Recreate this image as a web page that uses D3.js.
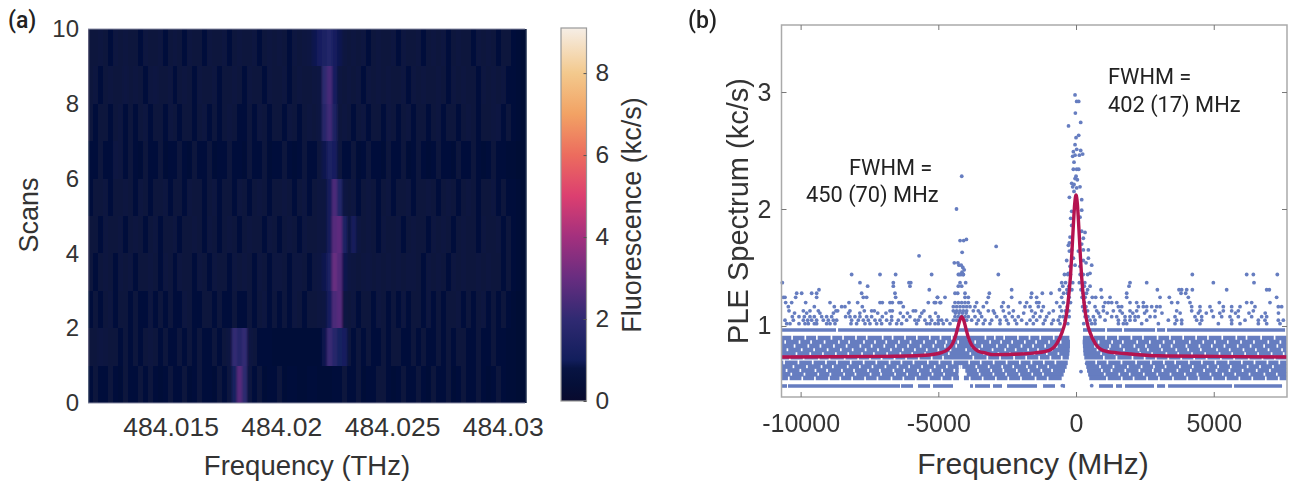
<!DOCTYPE html>
<html lang="en">
<head>
<meta charset="UTF-8">
<title>Fluorescence scans and PLE spectrum</title>
<script src="https://d3js.org/d3.v7.min.js"></script>
<style>
    body { margin: 0; background: #fff; }
    svg { display: block; }
    text { font-family: "Liberation Sans", Arial, sans-serif; fill: #333; }
    .note { font-family: Roboto, sans-serif; font-size: 21.8px; fill: #222; }
    .panel { font-family: Roboto, sans-serif; font-size: 23px; font-weight: 500; fill: #222; }
</style>
</head>
<body>
<svg width="1291" height="487"></svg>
<script>
// panel (a): fluorescence in tenths of kc/s, one row per scan, bottom scan first
var freqStart = 484.01127, freqStep = 0.0002245;
var scanTenths = [
 [5,6,5,5,6,5,4,6,5,5,6,5,6,5,4,5,6,5,5,6,4,5,6,5,5,4,6,5,7,12,27,19,7,5,6,4,5,5,6,4,5,5,4,4,5,5,4,4,4,5,5,6,5,5,6,4,5,5,6,6,5,4,5,6,5,5,6,5,4,6,5,5,6,4,5,6,5,5,6,5,4,5,6,5,4,4,3,3],
 [6,6,8,7,6,6,5,6,5,6,5,6,7,6,5,6,5,5,6,5,6,5,6,5,5,6,5,6,8,20,17,20,8,6,5,5,5,4,4,4,4,4,4,4,4,4,4,9,22,17,12,11,6,5,6,5,6,5,5,6,5,6,6,5,5,6,5,6,5,5,6,5,6,5,6,6,5,5,6,5,5,6,5,5,4,4,3,3],
 [5,6,5,6,7,5,6,6,5,6,5,5,7,5,6,5,6,5,5,7,6,5,5,6,6,5,6,5,5,6,5,5,6,5,6,7,5,6,5,6,5,7,6,5,6,6,7,8,11,25,27,8,6,7,5,6,6,5,7,6,5,6,5,7,5,6,6,5,7,5,6,5,6,6,7,5,6,5,6,7,5,6,5,6,5,4,3,3],
 [6,5,6,7,6,5,7,6,7,5,6,6,7,6,5,7,6,5,7,6,6,5,7,6,5,7,6,6,5,7,6,7,6,5,7,6,5,7,7,6,5,7,7,6,5,7,8,9,13,30,26,9,8,7,6,7,8,6,7,6,7,6,7,6,7,7,6,5,7,6,7,6,5,7,6,7,6,6,7,6,7,6,6,5,6,5,4,3],
 [6,6,5,7,6,6,7,5,6,7,6,5,6,7,5,6,6,7,5,6,6,7,6,5,7,6,5,6,7,6,5,6,7,6,6,5,7,6,5,6,7,6,5,7,6,6,7,7,10,27,28,13,7,10,7,6,7,6,5,7,6,6,7,5,6,7,6,6,5,7,6,7,6,5,6,7,6,6,5,7,6,6,7,5,6,5,4,3],
 [5,6,6,7,5,6,6,7,6,5,7,6,5,6,6,7,5,6,6,5,7,6,6,5,6,7,5,6,6,5,7,6,5,6,7,6,5,6,6,7,6,5,6,7,5,6,7,7,10,25,16,8,6,7,5,6,7,6,5,6,7,5,6,6,7,5,6,6,7,6,5,6,7,6,5,6,7,6,5,6,6,7,5,6,5,5,4,3],
 [5,5,6,5,5,8,7,5,6,5,4,6,5,5,6,4,5,5,6,5,4,6,5,5,6,4,5,5,6,5,5,4,6,5,5,6,4,5,5,6,5,4,5,6,5,5,6,9,13,11,6,5,5,6,4,5,6,5,5,4,6,5,5,6,4,5,6,5,4,5,6,5,5,4,6,5,5,6,5,4,5,6,5,5,4,4,3,3],
 [6,5,6,6,5,6,7,5,6,5,6,7,5,6,6,5,7,6,5,6,6,5,6,7,5,6,5,6,7,6,5,5,6,5,7,6,5,6,6,5,7,6,5,6,7,6,8,17,23,13,6,7,6,5,6,7,5,6,6,5,7,6,5,6,7,5,6,6,5,6,7,5,6,6,5,6,7,6,5,6,6,7,8,5,6,5,4,3],
 [6,7,5,6,7,6,6,8,6,7,6,5,7,8,6,6,7,5,6,7,6,5,7,6,6,7,5,6,6,7,6,5,7,6,6,5,7,6,6,7,5,6,7,6,6,7,8,19,24,11,7,6,7,6,7,5,7,6,7,6,7,6,6,7,5,7,6,7,6,6,7,6,5,7,6,7,6,6,5,7,6,7,6,7,5,5,4,3],
 [6,6,7,6,5,7,6,7,6,6,5,7,6,6,7,5,6,7,6,5,7,6,6,5,7,6,6,7,5,6,7,6,6,7,5,6,7,6,7,6,5,7,6,7,8,9,11,13,16,11,9,7,6,7,6,7,5,6,7,6,6,7,5,7,6,6,7,5,6,7,6,7,5,6,7,6,6,5,7,6,7,6,5,6,6,5,4,3]
];
var scanTicks = [0, 2, 4, 6, 8, 10];
var thzTicks = [484.015, 484.02, 484.025, 484.03];
var fluorescenceMax = 9.1;
var fluorescenceTicks = [0, 2, 4, 6, 8];
var colorStops = [0, 0.4, 0.8, 1, 2, 3, 4, 5, 6, 7, 8, 9.1];
var colorNames = ['#090a2e', '#050f38', '#081443', '#121e5c', '#302a72', '#682d80', '#a3307e', '#dc3f70', '#ec6c5e', '#f2a264', '#f3c98d', '#f6eee6'];

// panel (b): PLE spectrum, frequency in MHz and kc/s
var mhzTicks = [-10000, -5000, 0, 5000];
var pleTicks = [1, 2, 3];
// the two solid rows of points, as [from, to] stretches
var solidLevels = [0.966, 0.487];
var solidRuns = [
 [[-10675,-8715],[-8640,-470],[254,1053],[1126,1670],[1743,2868],[2941,3232],[3304,7590]],
 [[-10675,-10494],[-10458,-6391],[-6354,-5919],[-5737,-5301],[-5192,-4466],[-3849,-3740],[-3667,-3123],[-3014,-2687],[-2505,-1416],[-1198,-763],[-472,-399],[835,1343],[1452,1670],[1779,2832],[2941,3232],[3341,5664],[5737,7480]]
];
// the dense band: rows of points, left stretch end, right stretch start, holes
var bandLevels = [0.897, 0.863, 0.829, 0.795, 0.765, 0.733, 0.685, 0.653, 0.620, 0.587, 0.556];
var bandLeftEnd = [-240, -220, -220, -230, -240, -260, -300, -340, -400, -450, -520];
var bandRightStart = [250, 240, 250, 260, 270, 300, 340, 370, 400, 440, 480];
var bandHoles = [
 [-10310,-9830,-9410,-8880,-8460,-7990,-7600,-7020,-6660,-6210,-5780,-5310,-4920,-4510,-3910,-3290,-2950,-2610,-2110,-1690,-1300,-810,610,1090,1520,2010,2430,2960,3410,3890,4360,4790,5310,5820,6190,6720,7210],
 [-10560,-10040,-9620,-9130,-8610,-8240,-7700,-7300,-6890,-6430,-6010,-5520,-5090,-4710,-4280,-3660,-3120,-2720,-2320,-1860,-1450,-980,-560,820,1310,1700,2220,2680,3180,3560,4130,4620,5040,5510,5990,6460,6980,7420],
 [-10220,-9720,-9280,-8790,-8330,-7830,-7420,-6960,-6540,-6100,-5640,-5180,-4760,-4350,-3780,-3410,-2870,-2480,-1980,-1560,-1120,-700,690,1230,1610,2120,2540,3050,3470,4010,4480,4930,5390,5870,6340,6830,7310],
 [-10480,-9960,-9510,-9020,-8540,-8110,-7640,-7190,-6720,-6290,-5850,-5420,-5000,-4560,-3990,-3520,-3030,-2570,-2190,-1740,-1380,-880,780,1180,1740,2270,2610,3120,3640,4070,4530,5120,5580,6080,6530,6990,7480],
 [-10150,-9650,-9190,-8720,-8270,-7770,-7340,-6860,-6380,-5950,-5480,-5060,-4620,-3840,-3350,-2820,-2400,-1900,-1510,-1060,-640,910,1400,1830,2330,2760,3280,3710,4210,4690,5210,5670,6140,6610,7100,7540],
 [-10390,-9890,-9340,-8950,-8400,-7910,-7480,-7060,-6590,-6170,-5710,-5240,-4830,-3730,-3220,-2760,-2250,-1810,-1340,-930,-520,1010,1470,2050,2490,2900,3350,3820,4290,4740,5260,5740,6270,6770,7220],
 [-10600,-10080,-9560,-9080,-8680,-8180,-7710,-7250,-6770,-6340,-5900,-5380,-4960,-4480,-3880,-3460,-2990,-2520,-2040,-1620,-1170,-750,730,1140,1650,2180,2720,3190,3600,4100,4570,5060,5530,6020,6480,6950,7380],
 [-10260,-9770,-9240,-8830,-8290,-7850,-7390,-6920,-6480,-6060,-5590,-5130,-4690,-4230,-4160,-3620,-3170,-2680,-2280,-1780,-1410,-1010,870,1360,1880,2380,2830,3250,3770,4240,4780,5160,5620,6230,6680,7150],
 [-10510,-10010,-9460,-9040,-8500,-8060,-7550,-7120,-6630,-6240,-5740,-5280,-4860,-4420,-4230,-4170,-4110,-4050,-3560,-3080,-2640,-2150,-1720,-1260,-870,940,1290,1790,2300,2790,3140,3680,4170,4650,5100,5570,6050,6560,7040],
 [-10340,-9860,-9360,-8920,-8420,-8010,-7460,-7080,-6570,-6130,-5670,-5210,-4790,-4240,-4180,-4120,-4060,-4000,-3500,-3000,-2540,-2060,-1590,-1200,1040,1570,1950,2460,2950,3430,3950,4410,4880,5330,5780,6300,6840,7290],
 [-10430,-9940,-9480,-8970,-8560,-8130,-7660,-7210,-6700,-6270,-5820,-5350,-4880,-4490,-4220,-4160,-4100,-3860,-3390,-2910,-2460,-2000,-1470,-1030,1120,1660,2090,2580,3010,3520,4040,4450,4960,5440,5930,6400,6890,7360]
];
// rows above the band, x positions in MHz
var sparseLevels = [1.44, 1.37, 1.34, 1.31, 1.28, 1.245, 1.20, 1.165, 1.13, 1.11, 1.08, 1.05, 1.02];
var sparseRows = [
 [-8147,-7118,-6550,-5243,-4273,-4176,-4092,-2821,4223,6196,6438,7309,-420,-300,-200,150,260,420],
 [-10664,-7845,-6634,-6066,-6000,-4212,-4007,1960,2566,4986,6462,-520,-380,-120,120,320],
 [-7566,-6634,-6030,-4273,-4152,1924,-480,-260,300,510],
 [-9333,-5328,-2337,908,2953,3739,3836,4018,4223,5470,6922,7018,-600,-330,-150,180,420],
 [-10143,-9962,-9599,-9418,-7784,-6574,-4394,-4297,-4031,-3148,-1611,-1224,-909,1840,3812,3981,-450,-310,260,380],
 [-10628,-10567,-10180,-9418,-7724,-7603,-6550,-5026,-5035,-4757,-4031,-3910,-3184,-2337,-1635,-1430,-522,714,932,1235,1840,3050,3388,4078,7284,-250,220,330,590],
 [-10543,-10325,-9817,-8933,-8244,-7929,-7118,-7034,-6755,-6671,-6429,-6356,-5364,-5146,-4940,-5096,-4914,-4394,-4273,-4152,-4031,-3910,-3608,-3245,-2640,-2034,-1793,-1430,-1345,-703,-461,1053,1174,1295,1477,1960,2202,2444,3473,3691,4138,5203,6196,6377,7042,-200,300,480],
 [-10446,-9502,-8776,-8510,-8389,-7760,-6272,-4455,-4334,-4212,-4092,-3971,-3850,-3668,-3366,-2700,-2458,-1853,-1671,-1369,-1188,-583,690,993,1537,1658,2263,2444,2565,2747,2929,3050,4199,4501,4864,5348,5651,5954,6498,7345,7466,-320,240,360],
 [-10422,-9901,-9660,-9357,-8716,-8655,-8208,-7687,-7421,-7324,-6755,-6671,-5909,-5824,-5521,-4455,-4334,-4212,-4092,-3971,-3729,-3547,-3184,-3002,-2640,-2276,-1611,-1248,-825,-522,751,993,1355,1598,1960,2202,2565,2868,3654,4199,4501,4925,5348,5651,5893,6437,-380,-260,280,420],
 [-10220,-9780,-9300,-8810,-8260,-7850,-7200,-6900,-6380,-6120,-5600,-5100,-4380,-4250,-4120,-3990,-3480,-2960,-2430,-1900,-1480,-980,-350,820,1130,1680,2060,2490,3120,3780,4440,4730,5220,5790,6280,6870,7350],
 [-10301,-10059,-9865,-9660,-9502,-9236,-9055,-8873,-8365,-8208,-8026,-7845,-7603,-7421,-7034,-6695,-6272,-6030,-5667,-5304,-5001,-4394,-4273,-4152,-4031,-3910,-3668,-3426,-2882,-2579,-2313,-2095,-1551,-1309,-1067,-583,-461,630,872,1295,1477,1779,1960,2142,2263,2687,2868,3594,4320,4562,4985,5288,5590,5893,6377,6740,6922,-250,330,430],
 [-10567,-10264,-9901,-9744,-9599,-9418,-9176,-8994,-8812,-8692,-8147,-7905,-7724,-7542,-7300,-7118,-6877,-6695,-6453,-6151,-5848,-5727,-5485,-5243,-4880,-4999,-4696,-4455,-4334,-3971,-3789,-3547,-3305,-3063,-2760,-2519,-2216,-1974,-1671,-1430,-1127,-825,-643,-401,508,690,1053,1537,1779,1960,2142,2566,3352,3655,3836,4380,4562,5651,6135,6619,6861,7345,7527],
 [-10507,-10386,-10059,-9841,-9720,-9502,-9418,-9055,-8933,-8752,-8171,-7966,-7663,-7482,-7240,-7058,-6755,-6513,-6332,-5788,-5425,-5304,-5120,-5001,-4820,-4576,-3608,-3366,-3124,-2760,-2458,-2155,-1793,-1550,-1188,-885,-582,569,690,1537,1719,1840,2384,2989,3594,3836,4501,5167,5651,5954,6619,6922,7406,-300,280,420]
];
// single points of the two towers and the few that sit in the gap
var towerX = [-36,24,97,-24,169,-273,97,0,-36,24,-97,169,242,-121,-36,121,-73,-97,24,97,0,-36,48,-157,-73,145,24,-121,-73,-242,206,-157,206,-194,145,-157,327,206,-218,-242,266,206,-278,-157,448,266,-242,85,448,-339,-97,266,363,569,-218,508,-278,145,-36,
  -4150,-4340,-4210,-4080,-3980,-4135,-4420,-4290,-4250,-4170,-4110,-4060,-4140,-4230,-4100,-5700,-2900,180,388,569,-498];
var towerY = [2.975,2.92,2.92,2.82,2.74,2.71,2.63,2.61,2.55,2.51,2.49,2.50,2.47,2.45,2.46,2.46,2.40,2.34,2.34,2.34,2.28,2.26,2.25,2.22,2.21,2.19,2.18,2.19,2.15,2.10,2.08,1.98,1.99,1.92,1.93,1.86,1.80,1.81,1.76,1.71,1.75,1.70,1.69,1.65,1.65,1.65,1.64,1.64,1.58,1.56,1.58,1.56,1.54,1.52,1.51,1.45,1.45,1.51,1.52,
  2.28,2.00,1.73,1.73,1.74,1.63,1.54,1.54,1.52,1.52,1.50,1.48,1.46,1.44,1.44,1.60,1.68,0.61,0.68,0.49,0.49];
var fitX = [-10694,-7000,-5500,-5000,-4750,-4600,-4480,-4380,-4300,-4220,-4150,-4080,-4000,-3920,-3820,-3700,-3550,-3300,-3000,-2000,-1500,-1000,-700,-500,-400,-300,-200,-150,-100,-50,0,50,100,150,200,300,400,500,700,1000,1500,2000,3000,5000,7660];
var fitY = [0.735,0.74,0.75,0.765,0.785,0.81,0.85,0.91,0.98,1.05,1.08,1.05,0.98,0.91,0.85,0.81,0.785,0.77,0.755,0.76,0.77,0.79,0.85,0.95,1.03,1.18,1.43,1.63,1.85,2.04,2.12,2.04,1.85,1.63,1.43,1.18,1.03,0.95,0.85,0.79,0.77,0.76,0.745,0.74,0.735];

var svg = d3.select('svg');
var defs = svg.append('defs');
var soft = defs.append('filter').attr('id', 'soft').attr('x', '-2%').attr('y', '-2%').attr('width', '104%').attr('height', '104%');
soft.append('feGaussianBlur').attr('stdDeviation', 0.6);
var smear = defs.append('filter').attr('id', 'smear').attr('x', '0').attr('y', '0').attr('width', '100%').attr('height', '100%');
smear.append('feGaussianBlur').attr('stdDeviation', '1 0.4').attr('edgeMode', 'duplicate');

// ---- panel (a)
var ax = d3.scaleLinear().domain([freqStart, freqStart + 88 * freqStep]).range([88, 525.5]);
var ay = d3.scaleLinear().domain([0, 10]).range([403, 29]);
var color = d3.scaleLinear().domain(colorStops).range(colorNames).interpolate(d3.interpolateRgb);

var heat = svg.append('g').attr('filter', 'url(#smear)');
scanTenths.forEach(function(row, r) {
    heat.selectAll('rect.s' + r).data(row).enter().append('rect')
        .attr('class', 's' + r)
        .attr('x', (d, i) => ax(freqStart + i * freqStep))
        .attr('width', (d, i) => ax(freqStart + (i + 1) * freqStep) - ax(freqStart + i * freqStep) + 1)
        .attr('y', ay(r + 1))
        .attr('height', ay(r) - ay(r + 1))
        .attr('shape-rendering', 'crispEdges')
        .attr('fill', d => color(d / 10));
});
svg.append('path').attr('d', 'M88,' + ay(10) + 'H525M88,' + ay(0) + 'H525')
    .attr('stroke', '#8c8ea6').attr('stroke-width', 1).attr('fill', 'none');

var axisA = svg.append('g').attr('transform', 'translate(0,403)')
    .call(d3.axisBottom(ax).tickValues(thzTicks).tickSize(0).tickPadding(14).tickFormat(d => +d.toFixed(3)));
var axisAy = svg.append('g').attr('transform', 'translate(88,0)')
    .call(d3.axisLeft(ay).tickValues(scanTicks).tickSize(0).tickPadding(9));
[axisA, axisAy].forEach(g => {
    g.select('.domain').remove();
    g.selectAll('text').style('font-size', '24px').style('font-family', '"Liberation Sans", Arial, sans-serif').attr('fill', '#333');
});
axisA.selectAll('text').style('font-size', '26.5px');
svg.append('text').attr('x', 307).attr('y', 475).attr('text-anchor', 'middle').style('font-size', '27.5px').text('Frequency (THz)');
svg.append('text').attr('transform', 'translate(38,215) rotate(-90)').attr('text-anchor', 'middle').style('font-size', '27px').text('Scans');
svg.append('text').attr('class', 'panel').attr('x', 8).attr('y', 28).text('(a)');

// colour bar
var cy = d3.scaleLinear().domain([0, fluorescenceMax]).range([401, 28]);
var grad = defs.append('linearGradient').attr('id', 'cbar').attr('x1', 0).attr('y1', 1).attr('x2', 0).attr('y2', 0);
colorStops.forEach(function(s, i) {
    grad.append('stop').attr('offset', s / fluorescenceMax).attr('stop-color', colorNames[i]);
});
svg.append('rect').attr('x', 561).attr('y', cy(fluorescenceMax)).attr('width', 25.5).attr('height', cy(0) - cy(fluorescenceMax))
    .attr('fill', 'url(#cbar)').attr('stroke', '#999').attr('stroke-width', 1.2);
var axisC = svg.append('g').attr('transform', 'translate(586.5,0)')
    .call(d3.axisRight(cy).tickValues(fluorescenceTicks).tickSize(-3).tickPadding(9));
axisC.select('.domain').remove();
axisC.selectAll('line').attr('stroke', '#555');
axisC.selectAll('text').style('font-size', '24.5px').style('font-family', '"Liberation Sans", Arial, sans-serif').attr('fill', '#333');
svg.append('text').attr('transform', 'translate(641,215) rotate(-90)').attr('text-anchor', 'middle').style('font-size', '27px').text('Fluorescence (kc/s)');

// ---- panel (b)
var bx = d3.scaleLinear().domain([-10694, 7660]).range([781.5, 1287]);
var by = d3.scaleLinear().domain([0.393, 3.573]).range([397, 25]);
var runLine = d3.line().x(d => bx(d)).y(0);
var dotColor = '#667dc0';

var marks = svg.append('g').attr('filter', 'url(#soft)');
function drawRuns(level, runs, width) {
    marks.append('g').attr('transform', 'translate(0,' + by(level) + ')')
        .selectAll('path').data(runs).enter().append('path')
        .attr('d', runLine)
        .attr('fill', 'none').attr('stroke', dotColor).attr('stroke-width', width);
}
solidLevels.forEach((level, i) => drawRuns(level, solidRuns[i], 3.6));
bandLevels.forEach(function(level, i) {
    var edges = [-10690].concat(bandHoles[i].filter(h => h < 0).flatMap(h => [h - 30, h + 30]), [bandLeftEnd[i]],
        [bandRightStart[i]], bandHoles[i].filter(h => h > 0).flatMap(h => [h - 30, h + 30]), [7650]);
    drawRuns(level, d3.range(0, edges.length, 2).map(k => [edges[k], edges[k + 1]]), 4.6);
});
sparseLevels.forEach(function(level, i) {
    marks.selectAll('circle.r' + i).data(sparseRows[i]).enter().append('circle')
        .attr('class', 'r' + i).attr('cx', d => bx(d)).attr('cy', by(level)).attr('r', 1.9).attr('fill', dotColor);
});
marks.selectAll('circle.t').data(towerX).enter().append('circle')
    .attr('class', 't').attr('cx', d => bx(d)).attr('cy', (d, i) => by(towerY[i])).attr('r', 1.9).attr('fill', dotColor);

var fit = d3.line().x(d => bx(d)).y((d, i) => by(fitY[i])).curve(d3.curveMonotoneX);
svg.append('path').datum(fitX).attr('d', fit).attr('fill', 'none').attr('stroke', '#b5134f').attr('stroke-width', 3.4);

// frame with ticks on all four sides
var frame = svg.append('g');
frame.append('rect').attr('x', 781.5).attr('y', 25).attr('width', 505.5).attr('height', 372)
    .attr('fill', 'none').attr('stroke', '#aaa').attr('stroke-width', 1.5);
var axisB = svg.append('g').attr('transform', 'translate(0,397)')
    .call(d3.axisBottom(bx).tickValues(mhzTicks).tickSize(-5).tickPadding(17).tickFormat(d3.format('d')));
var axisBt = svg.append('g').attr('transform', 'translate(0,25)')
    .call(d3.axisTop(bx).tickValues(mhzTicks).tickSize(-5).tickFormat(''));
var axisBy = svg.append('g').attr('transform', 'translate(781.5,0)')
    .call(d3.axisLeft(by).tickValues(pleTicks).tickSize(-5).tickPadding(10).tickFormat(d3.format('d')));
var axisBr = svg.append('g').attr('transform', 'translate(1287,0)')
    .call(d3.axisRight(by).tickValues(pleTicks).tickSize(-5).tickFormat(''));
[axisB, axisBt, axisBy, axisBr].forEach(g => {
    g.select('.domain').remove();
    g.selectAll('line').attr('stroke', '#777');
    g.selectAll('text').style('font-size', '25px').style('font-family', '"Liberation Sans", Arial, sans-serif').attr('fill', '#333');
});
axisB.selectAll('text').text(d => d3.format('d')(d).replace('\u2212', '-'));
svg.append('text').attr('x', 1033).attr('y', 474).attr('text-anchor', 'middle').style('font-size', '30px').text('Frequency (MHz)');
svg.append('text').attr('transform', 'translate(748,211) rotate(-90)').attr('text-anchor', 'middle').style('font-size', '29px').text('PLE Spectrum (kc/s)');
svg.append('text').attr('class', 'panel').attr('x', 688).attr('y', 28).text('(b)');

svg.append('text').attr('class', 'note').attr('x', 1108).attr('y', 84).text('FWHM =');
svg.append('text').attr('class', 'note').attr('x', 1108).attr('y', 112).text('402 (17) MHz');
svg.append('text').attr('class', 'note').attr('x', 849).attr('y', 175).text('FWHM =');
svg.append('text').attr('class', 'note').attr('x', 806).attr('y', 202).text('450 (70) MHz');
</script>
</body>
</html>
